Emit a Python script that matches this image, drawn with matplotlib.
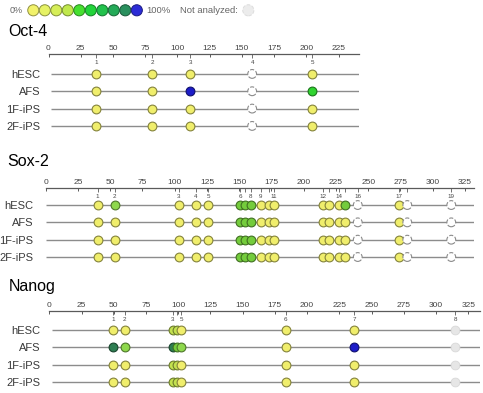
import numpy as np
import matplotlib.pyplot as plt
import matplotlib.colors as mcolors
import matplotlib.transforms as mtransforms

plt.rcParams['font.family'] = ['Liberation Sans', 'DejaVu Sans']

# ---- data ----
rows = ['hESC', 'AFS', '1F-iPS', '2F-iPS']

legend_colors = ['#f2f26a', '#e6f264', '#d6ee58', '#c0e84c', '#46e030',
                 '#22d43a', '#22c24c', '#24aa58', '#2a905e', '#2c2cd6']

# colour key for each CpG state
state_colors = {'y': '#f0ee6c', 'yg': '#c4e250', 'lg': '#8ed84c', 'g': '#74cc3c',
                'bg': '#30d430', 'dg': '#2e7e52', 'b': '#1c1cc8',
                'na': '#ffffff', 'nag': '#e6e6e6'}

oct4_pos = [37, 80.5, 110, 158, 204.5]
oct4_num = ['1', '2', '3', '4', '5']
oct4_state = [['y', 'y', 'y', 'na', 'y'],
              ['y', 'y', 'b', 'na', 'bg'],
              ['y', 'y', 'y', 'na', 'y'],
              ['y', 'y', 'y', 'na', 'y']]
oct4_ticks = [0, 25, 50, 75, 100, 125, 150, 175, 200, 225]

sox2_pos = [40.3, 53.5, 103.3, 116.5, 126, 150.8, 154.7, 158.9, 166.7, 172.9, 177,
            214.7, 219.9, 227.1, 232.3, 241.9, 273.9, 280.3, 314.4]
sox2_num = ['1', '2', '3', '4', '5', '6', '', '8', '9', '', '11',
            '12', '', '14', '', '16', '17', '', '19']
sox2_state = [['y', 'lg', 'y', 'y', 'y', 'g', 'g', 'g', 'y', 'y', 'y',
               'y', 'y', 'y', 'g', 'na', 'y', 'na', 'na'],
              ['y', 'y', 'y', 'y', 'y', 'g', 'g', 'g', 'y', 'y', 'y',
               'y', 'y', 'y', 'y', 'na', 'y', 'na', 'na'],
              ['y', 'y', 'y', 'y', 'y', 'g', 'g', 'g', 'y', 'y', 'y',
               'y', 'y', 'y', 'y', 'na', 'y', 'na', 'na'],
              ['y', 'y', 'y', 'y', 'y', 'g', 'g', 'g', 'y', 'y', 'y',
               'y', 'y', 'y', 'y', 'na', 'y', 'na', 'na']]
sox2_ticks = [0, 25, 50, 75, 100, 125, 150, 175, 200, 225, 250, 275, 300, 325]

nanog_pos = [49.6, 58.4, 95.7, 98.8, 102.4, 183.4, 236.6, 315]
nanog_num = ['1', '2', '3', '', '5', '6', '7', '8']
nanog_state = [['y', 'y', 'yg', 'yg', 'y', 'y', 'y', 'nag'],
               ['dg', 'lg', 'dg', 'g', 'lg', 'y', 'b', 'nag'],
               ['y', 'y', 'yg', 'yg', 'y', 'y', 'y', 'nag'],
               ['y', 'y', 'yg', 'yg', 'y', 'y', 'y', 'nag']]
nanog_ticks = sox2_ticks

# ---- layout (pixels) ----
W, H = 483, 393
fig = plt.figure(figsize=(W / 100, H / 100), dpi=100)
fig.patch.set_facecolor('white')

ROW = 17.33


def dark(c, f=0.55):
    r, g, b = mcolors.to_rgb(c)
    return (r * f, g * f, b * f)


def panel(title, title_xy, left, scale, top, xmax, d0, line_x0, ypad,
          pos, nums, states, ticks):
    y_bot = 3.6
    width = xmax * scale
    height = (y_bot + d0) * ROW
    ax = fig.add_axes([left / W, 1 - (top + height) / H, width / W, height / H])
    ax.patch.set_visible(False)
    ax.set_xlim(0, xmax)
    ax.set_ylim(y_bot, -d0)
    for s in ['left', 'right', 'bottom']:
        ax.spines[s].set_visible(False)
    ax.spines['top'].set_color('#5a5a5a')
    ax.spines['top'].set_linewidth(0.9)
    ax.xaxis.tick_top()
    ax.set_xticks(ticks)
    ax.set_xticks(pos, minor=True)
    ax.tick_params(axis='x', which='major', direction='in', length=2.5, width=0.7,
                   pad=1.5, labelsize=6, colors='#5a5a5a', labelcolor='#444444')
    ax.tick_params(axis='x', which='minor', direction='in', length=3, width=0.6,
                   colors='#5a5a5a')
    ax.set_yticks(range(len(rows)))
    ax.set_yticklabels(rows)
    ax.tick_params(axis='y', length=0, pad=ypad, labelsize=8, labelcolor='#3a3a3a')

    ax.hlines(range(len(rows)), line_x0, xmax, color='#8c8c8c', lw=1.0, zorder=1)

    for p, n in zip(pos, nums):
        if n:
            ax.annotate(n, xy=(p, 1), xycoords=('data', 'axes fraction'),
                        xytext=(0, -6), textcoords='offset points',
                        ha='center', va='center', fontsize=4.5, color='#444444')

    for i, st in enumerate(states):
        for p, s in zip(pos, st):
            fc = state_colors[s]
            if s == 'na':
                ax.scatter([p], [i], s=40, facecolor=fc, edgecolor='#8a8a8a',
                           linewidths=0.8, linestyles='--', zorder=3, clip_on=False)
            elif s == 'nag':
                ax.scatter([p], [i], s=40, facecolor=fc, edgecolor='#d8d8d8',
                           linewidths=0.6, zorder=3, clip_on=False)
            else:
                ax.scatter([p], [i], s=40, facecolor=fc, edgecolor=dark(fc),
                           linewidths=0.8, zorder=3, clip_on=False)

    fig.text(title_xy[0] / W, 1 - title_xy[1] / H, title, fontsize=11.5,
             ha='left', va='center', color='black')
    return ax


panel('Oct-4', (8, 31), 48.5, 1.289, 54, 241, 1.15, 2, 6.1,
      oct4_pos, oct4_num, oct4_state, oct4_ticks)
panel('Sox-2', (7, 162), 45.7, 1.29, 187.7, 332, 1.0, 0, 9,
      sox2_pos, sox2_num, sox2_state, sox2_ticks)
panel('Nanog', (9, 286), 49.3, 1.289, 311, 334, 1.1, 1.8, 6.7,
      nanog_pos, nanog_num, nanog_state, nanog_ticks)

# ---- colour legend at top ----
lax = fig.add_axes([0, 0, 1, 1])
lax.set_xlim(0, W)
lax.set_ylim(H, 0)
lax.axis('off')
lx = 33.3 + 11.5 * np.arange(len(legend_colors))
lax.scatter(lx, np.full(len(lx), 10.3), s=64, c=legend_colors,
            edgecolors=[dark(c, 0.6) for c in legend_colors], linewidths=0.7)
lax.text(10, 10.5, '0%', fontsize=6.5, color='#666666', ha='left', va='center')
lax.text(146.5, 10.5, '100%', fontsize=6.8, color='#666666', ha='left', va='center')
lax.text(180, 10.5, 'Not analyzed:', fontsize=6.8, color='#666666', ha='left', va='center')
lax.scatter([248.3], [10.3], s=64, facecolor='#ececec', edgecolor='#dddddd',
            linewidths=0.7, linestyles='--')

fig.savefig('out.png', dpi=100)
